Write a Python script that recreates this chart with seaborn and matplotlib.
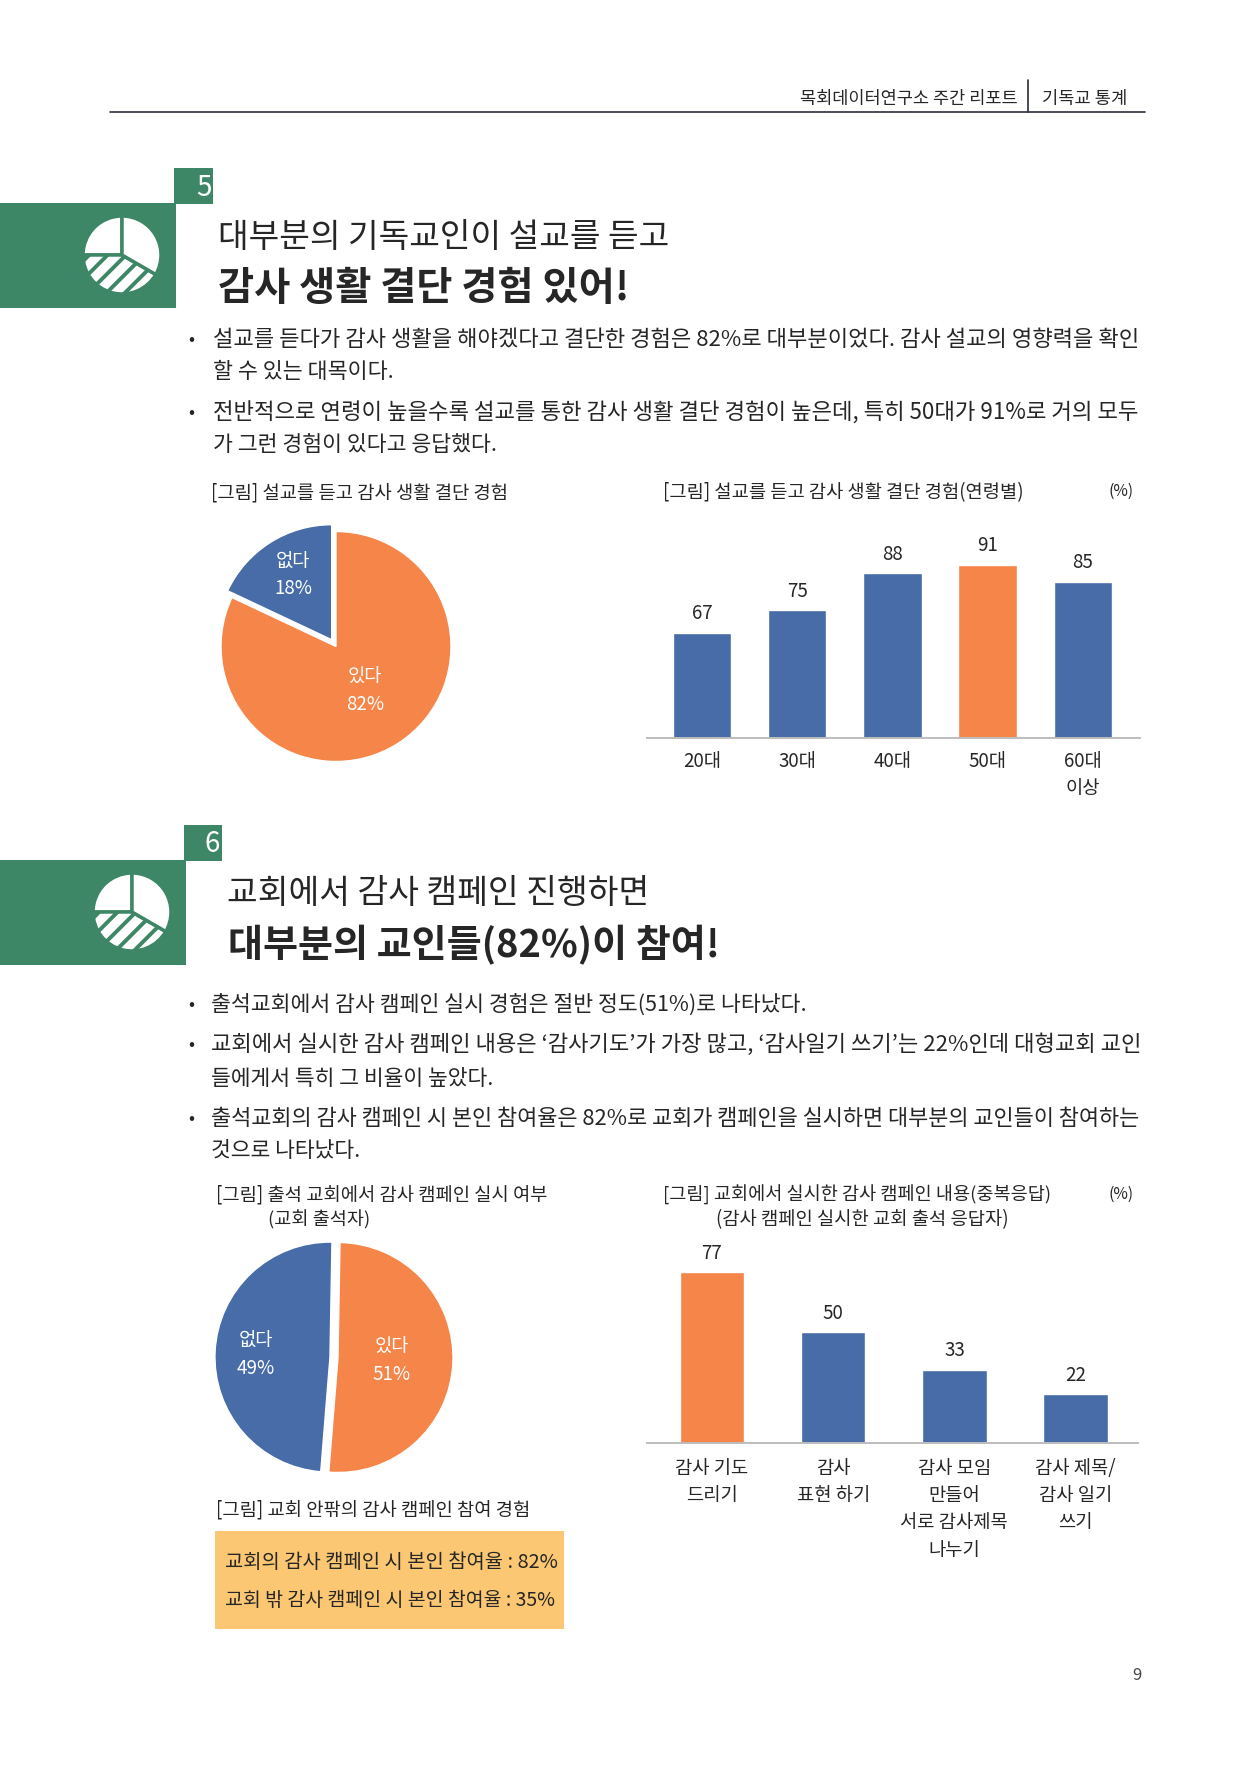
import matplotlib
matplotlib.use('Agg')
import matplotlib.pyplot as plt
import numpy as np
import seaborn as sns
from matplotlib.patches import Rectangle

W, H = 1257, 1778
GREEN = '#3D8767'
ORANGE = '#F58549'
BLUE = '#476CA7'
INK = '#262626'

# 데이터
age_labels = ['20대', '30대', '40대', '50대', '60대\n이상']
age_values = [67, 75, 88, 91, 85]
age_colors = [BLUE, BLUE, BLUE, ORANGE, BLUE]

campaign_labels = ['감사 기도\n드리기', '감사\n표현 하기', '감사 모임\n만들어\n서로 감사제목\n나누기', '감사 제목/\n감사 일기\n쓰기']
campaign_values = [77, 50, 33, 22]
campaign_colors = [ORANGE, BLUE, BLUE, BLUE]

pie1_labels = ['없다', '있다']
pie1_values = [18, 82]
pie2_labels = ['없다', '있다']
pie2_values = [49, 51]
icon_values = [25, 41.67, 33.33]

sns.set_theme(style='white')
plt.rcParams['font.family'] = ['Noto Sans CJK KR', 'DejaVu Sans']

fig = plt.figure(figsize=(W / 100, H / 100), dpi=100, facecolor='white')
bg = fig.add_axes([0, 0, 1, 1], zorder=5)
bg.set_xlim(0, W)
bg.set_ylim(H, 0)
bg.axis('off')
renderer = fig.canvas.get_renderer()


def px_axes(x0, y0, x1, y1):
    return fig.add_axes([x0 / W, 1 - y1 / H, (x1 - x0) / W, (y1 - y0) / H])


def put(x, y, s, size=14, color=INK, ha='center', weight='light'):
    return bg.text(x, y + 2, s, fontsize=size, color=color, ha=ha, va='center', fontweight=weight)


def fit(x0, x1, y, s, size=14, color=INK, weight='light'):
    # 글자 폭을 원본 폭에 맞춘다
    t = put(x0, y, s, size, color, 'left', weight)
    t.set_fontsize(size * (x1 - x0) / t.get_window_extent(renderer).width)
    return t


def icon(cx, cy):
    ax = px_axes(cx - 48, cy - 48, cx + 48, cy + 48)
    wedges, _ = ax.pie(icon_values, startangle=90, colors=['white'] * 3, radius=0.975,
                       wedgeprops={'edgecolor': GREEN, 'linewidth': 2.5})
    # 빗금 조각
    for k in np.arange(-1.94, 2, 0.46):
        line, = ax.plot([-1.2, 1.2], [k - 1.2, k + 1.2], color=GREEN, lw=2.8)
        line.set_clip_path(wedges[1])
    ax.set_xlim(-1.2, 1.2)
    ax.set_ylim(-1.2, 1.2)
    ax.set_zorder(6)


def pie(cx, cy, values, start):
    r = 115
    ax = px_axes(cx - 1.2 * r, cy - 1.2 * r, cx + 1.2 * r, cy + 1.2 * r)
    ax.pie(values, startangle=start, colors=[BLUE, ORANGE], explode=[0.07, 0])
    ax.set_xlim(-1.2, 1.2)
    ax.set_ylim(-1.2, 1.2)


def bars(box, xlim, ylim, labels, values, colors, width, pad):
    ax = px_axes(*box)
    sns.barplot(x=labels, y=values, hue=labels, palette=colors, width=width, dodge=False,
                saturation=1, legend=False, ax=ax)
    ax.set_xlim(*xlim)
    ax.set_ylim(*ylim)
    ax.patch.set_alpha(0)
    sns.despine(ax=ax, left=True)
    ax.spines['bottom'].set_color('#BDBDBD')
    ax.spines['bottom'].set_linewidth(1.4)
    ax.set_yticks([])
    ax.tick_params(axis='x', length=0, pad=pad, labelsize=13.5, labelcolor=INK)
    for lab in ax.get_xticklabels():
        lab.set_linespacing(1.38)
        lab.set_fontweight('light')
    for c in ax.containers:
        ax.bar_label(c, fmt='%d', padding=6, fontsize=13.5, color=INK, fontweight='light')
    return ax


# 머리글
bg.plot([110, 1145], [112, 112], color='#2B2F3A', lw=1.2)
bg.plot([1028, 1028], [80, 112], color='#2B2F3A', lw=1.2)
fit(800, 1018, 97, '목회데이터연구소 주간 리포트', 14)
fit(1042, 1127, 97, '기독교 통계', 14)

# 5번 섹션
bg.add_patch(Rectangle((174, 168), 39, 36, color=GREEN, lw=0))
bg.add_patch(Rectangle((0, 203), 176, 105, color=GREEN, lw=0))
put(204, 186, '5', 20, 'white')
icon(122, 255)
fit(218, 670, 235, '대부분의 기독교인이 설교를 듣고', 25)
fit(218, 630, 286, '감사 생활 결단 경험 있어!', 25, weight='bold')
put(191, 338, '•', 13)
fit(213, 1137, 338, '설교를 듣다가 감사 생활을 해야겠다고 결단한 경험은 82%로 대부분이었다. 감사 설교의 영향력을 확인', 15)
fit(213, 393, 370, '할 수 있는 대목이다.', 15)
put(191, 411, '•', 13)
fit(213, 1137, 411, '전반적으로 연령이 높을수록 설교를 통한 감사 생활 결단 경험이 높은데, 특히 50대가 91%로 거의 모두', 15)
fit(213, 496, 443, '가 그런 경험이 있다고 응답했다.', 15)
fit(211, 508, 491, '[그림] 설교를 듣고 감사 생활 결단 경험', 14)
fit(663, 1023, 491, '[그림] 설교를 듣고 감사 생활 결단 경험(연령별)', 14)
fit(1108, 1133, 489, '(%)', 12)

pie(336, 646.5, pie1_values, 90)
put(293, 560, pie1_labels[0], 13.5, 'white')
put(293, 587, f'{pie1_values[0]}%', 13.5, 'white')
put(365, 675, pie1_labels[1], 13.5, 'white')
put(365, 703, f'{pie1_values[1]}%', 13.5, 'white')

bars((647, 539, 1140, 738), (-0.577, 4.6), (30, 100), age_labels, age_values, age_colors, 0.615, 9)

# 6번 섹션
bg.add_patch(Rectangle((184, 825), 38, 36, color=GREEN, lw=0))
bg.add_patch(Rectangle((0, 860), 186, 105, color=GREEN, lw=0))
put(212, 842, '6', 20, 'white')
icon(132, 912)
fit(227, 649, 892, '교회에서 감사 캠페인 진행하면', 25)
fit(228, 721, 943, '대부분의 교인들(82%)이 참여!', 25, weight='bold')
put(191, 1003, '•', 13)
fit(211, 804, 1003, '출석교회에서 감사 캠페인 실시 경험은 절반 정도(51%)로 나타났다.', 15)
put(191, 1043, '•', 13)
fit(211, 1139, 1043, '교회에서 실시한 감사 캠페인 내용은 ‘감사기도’가 가장 많고, ‘감사일기 쓰기’는 22%인데 대형교회 교인', 15)
fit(211, 493, 1077, '들에게서 특히 그 비율이 높았다.', 15)
put(191, 1117, '•', 13)
fit(211, 1139, 1117, '출석교회의 감사 캠페인 시 본인 참여율은 82%로 교회가 캠페인을 실시하면 대부분의 교인들이 참여하는', 15)
fit(211, 360, 1149, '것으로 나타났다.', 15)
fit(216, 547, 1193, '[그림] 출석 교회에서 감사 캠페인 실시 여부', 14)
fit(268, 370, 1218, '(교회 출석자)', 14)
fit(663, 1051, 1193, '[그림] 교회에서 실시한 감사 캠페인 내용(중복응답)', 14)
fit(716, 1008, 1218, '(감사 캠페인 실시한 교회 출석 응답자)', 14)
fit(1108, 1133, 1192, '(%)', 12)

pie(338, 1357.5, pie2_values, 89)
put(256, 1339, pie2_labels[0], 13.5, 'white')
put(256, 1367, f'{pie2_values[0]}%', 13.5, 'white')
put(392, 1345, pie2_labels[1], 13.5, 'white')
put(392, 1373, f'{pie2_values[1]}%', 13.5, 'white')

bars((647, 1221, 1138, 1443), (-0.536, 3.515), (0, 100), campaign_labels, campaign_values, campaign_colors, 0.533, 11)

fit(216, 530, 1508, '[그림] 교회 안팎의 감사 캠페인 참여 경험', 14)
bg.add_patch(Rectangle((215, 1531), 349, 98, color='#FBC772', lw=0))
fit(225, 558, 1560, '교회의 감사 캠페인 시 본인 참여율 : 82%', 14)
fit(225, 555, 1599, '교회 밖 감사 캠페인 시 본인 참여율 : 35%', 14)
put(1137, 1673, '9', 12, '#444444')

fig.savefig('out.png', dpi=100)
